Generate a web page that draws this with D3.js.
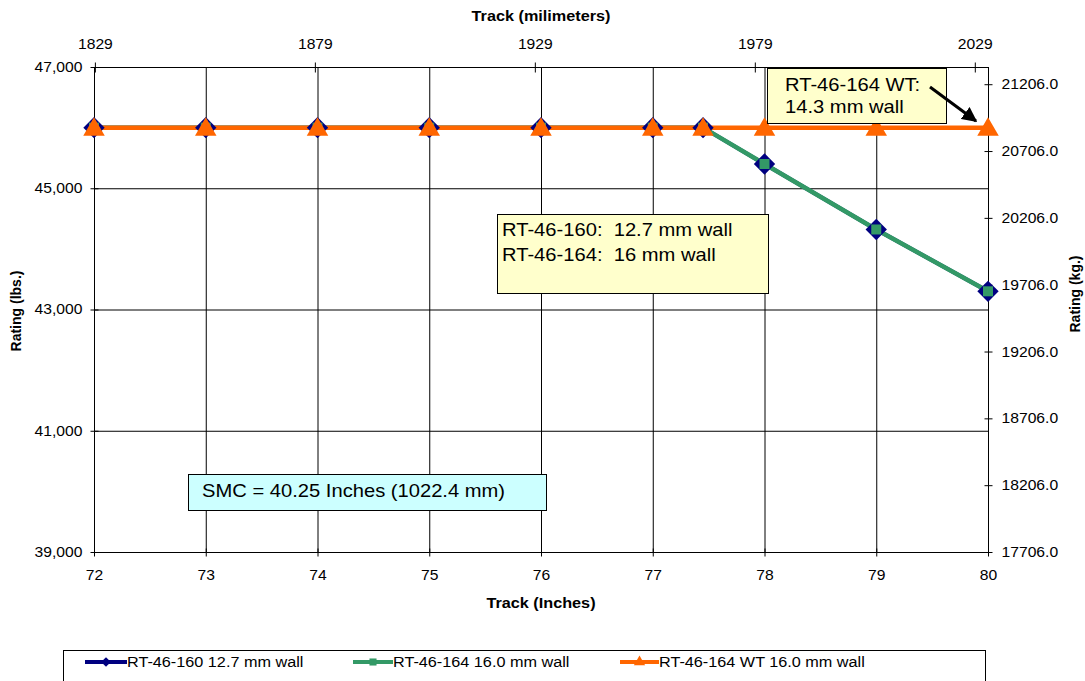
<!DOCTYPE html>
<html>
<head>
<meta charset="utf-8">
<script src="https://cdn.jsdelivr.net/npm/d3@7/dist/d3.min.js"></script>
<style>
  html, body { margin: 0; padding: 0; background: #fff; }
  svg { display: block; font-family: "Liberation Sans", Arial, sans-serif; }
  text { white-space: pre; }
</style>
</head>
<body>
<svg id="chart" width="1085" height="681"></svg>
<script>
// Track widths (inches) and ratings (lbs.)
const trackInches = [72, 73, 74, 75, 76, 77, 77.45, 78, 79, 80];
const rt46_160 = [46000, 46000, 46000, 46000, 46000, 46000, 46000, 45400, 44320, 43300];
const rt46_164 = [46000, 46000, 46000, 46000, 46000, 46000, 46000, 45400, 44320, 43300];
const rt46_164wt = [46000, 46000, 46000, 46000, 46000, 46000, 46000, 46000, 46000, 46000];

const seriesNames = ["RT-46-160 12.7 mm wall", "RT-46-164 16.0 mm wall", "RT-46-164 WT 16.0 mm wall"];
const xTicks = [72, 73, 74, 75, 76, 77, 78, 79, 80];
const yTicks = [39000, 41000, 43000, 45000, 47000];
const mmTicks = [1829, 1879, 1929, 1979, 2029];
const kgTicks = [17706, 18206, 18706, 19206, 19706, 20206, 20706, 21206];

const LB_TO_KG = 0.45359237;
const IN_TO_MM = 25.4;
const STRETCH = 1.12;   // slightly widened lettering

const svg = d3.select("#chart");
const pLeft = 94, pRight = 988, pTop = 67, pBottom = 552;

const x = d3.scaleLinear().domain([72, 80]).range([pLeft, pRight]);
const y = d3.scaleLinear().domain([39000, 47000]).range([pBottom, pTop]);
const xMm = d3.scaleLinear().domain([72 * IN_TO_MM, 80 * IN_TO_MM]).range([pLeft, pRight]);
const yKg = d3.scaleLinear().domain([17706, 17706 + 8000 * LB_TO_KG]).range([pBottom, pTop]);

// place a horizontally widened text at (tx, ty)
function wideText(parent, tx, ty, str, size, opts = {}) {
  const t = parent.append("text")
    .attr("transform", `translate(${tx},${ty}) scale(${STRETCH},1)`)
    .attr("font-size", size).attr("fill", "#000").text(str);
  if (opts.anchor) t.attr("text-anchor", opts.anchor);
  if (opts.bold) t.attr("font-weight", "bold");
  return t;
}

// Grid
const grid = svg.append("g");
grid.selectAll("line.v").data(xTicks).join("line")
  .attr("x1", d => x(d) + 0.5).attr("x2", d => x(d) + 0.5)
  .attr("y1", pTop).attr("y2", pBottom)
  .attr("stroke", "#000").attr("stroke-width", 1);
grid.selectAll("line.h").data(yTicks).join("line")
  .attr("x1", pLeft).attr("x2", pRight)
  .attr("y1", d => y(d) + 0.5).attr("y2", d => y(d) + 0.5)
  .attr("stroke", "#000").attr("stroke-width", 1);
svg.append("rect").attr("x", pLeft + 0.5).attr("y", pTop + 0.5)
  .attr("width", pRight - pLeft).attr("height", pBottom - pTop)
  .attr("fill", "none").attr("stroke", "#000");

// Axes
function styleAxis(g) {
  g.select(".domain").remove();
  g.selectAll("line").attr("stroke", "#000");
  g.selectAll("text").each(function () {
    const t = d3.select(this);
    const tx = +t.attr("x") || 0, ty = +t.attr("y") || 0;
    t.attr("x", null).attr("y", null)
      .attr("transform", `translate(${tx},${ty}) scale(${STRETCH},1)`)
      .attr("font-size", 14).attr("fill", "#000");
  });
}
svg.append("g").attr("transform", `translate(0,${pBottom + 0.5})`)
  .call(d3.axisBottom(x).tickValues(xTicks).tickSize(4).tickPadding(14).tickFormat(d3.format("d")))
  .call(styleAxis)
  .call(g => g.selectAll("line").attr("y1", -4));
svg.append("g").attr("transform", `translate(${pLeft + 0.5},0)`)
  .call(d3.axisLeft(y).tickValues(yTicks).tickSize(4).tickPadding(8).tickFormat(d3.format(",")))
  .call(styleAxis)
  .call(g => g.selectAll("line").attr("x1", 4));
svg.append("g").attr("transform", `translate(0,${pTop + 0.5})`)
  .call(d3.axisTop(xMm).tickValues(mmTicks).tickSize(5).tickPadding(14).tickFormat(d3.format("d")))
  .call(styleAxis)
  .call(g => g.selectAll("line").attr("y1", 5));
svg.append("g").attr("transform", `translate(${pRight + 0.5},0)`)
  .call(d3.axisRight(yKg).tickValues(kgTicks).tickSize(4).tickPadding(9).tickFormat(d3.format(".1f")))
  .call(styleAxis)
  .call(g => g.selectAll("line").attr("x1", -4));

// Axis titles
wideText(svg, 541, 21, "Track (milimeters)", 14.5, { anchor: "middle", bold: true });
wideText(svg, 541, 608, "Track (Inches)", 14.5, { anchor: "middle", bold: true });
svg.append("text").attr("transform", "translate(21,311) rotate(-90)").attr("text-anchor", "middle")
  .attr("font-size", 14).attr("font-weight", "bold").text("Rating (lbs.)");
svg.append("text").attr("transform", "translate(1080,294) rotate(-90)").attr("text-anchor", "middle")
  .attr("font-size", 14).attr("font-weight", "bold").text("Rating (kg.)");

// Series
const line = d3.line().x(d => x(d[0])).y(d => y(d[1]));
const pts = vals => trackInches.map((t, i) => [t, vals[i]]);
const diamond = d3.symbol().type(d3.symbolDiamond2).size(290);
const square = d3.symbol().type(d3.symbolSquare).size(100);
const triangle = d3.symbol().type(d3.symbolTriangle).size(200);

const plot = svg.append("g");
plot.append("path").attr("d", line(pts(rt46_160))).attr("fill", "none")
  .attr("stroke", "#000080").attr("stroke-width", 4);
plot.append("path").attr("d", line(pts(rt46_164))).attr("fill", "none")
  .attr("stroke", "#339966").attr("stroke-width", 4.5);
plot.append("path").attr("d", line(pts(rt46_164wt))).attr("fill", "none")
  .attr("stroke", "#ff6600").attr("stroke-width", 4.5);

plot.selectAll("path.d").data(pts(rt46_160)).join("path")
  .attr("transform", d => `translate(${x(d[0])},${y(d[1])})`)
  .attr("d", diamond).attr("fill", "#000080");
plot.selectAll("path.s").data(pts(rt46_164)).join("path")
  .attr("transform", d => `translate(${x(d[0])},${y(d[1])})`)
  .attr("d", square).attr("fill", "#339966");
plot.selectAll("path.t").data(pts(rt46_164wt)).join("path")
  .attr("transform", d => `translate(${x(d[0])},${y(d[1]) + 2})`)
  .attr("d", triangle).attr("fill", "#ff6600");

// Annotation boxes
function noteBox(x0, y0, w, h, fill, lines, fs, tx, centers) {
  const g = svg.append("g");
  g.append("rect").attr("x", x0 + 0.5).attr("y", y0 + 0.5).attr("width", w).attr("height", h)
    .attr("fill", fill).attr("stroke", "#000").attr("stroke-width", 1);
  lines.forEach((t, i) => wideText(g, tx, centers[i] + fs * 0.35, t, fs));
  return g;
}
noteBox(497, 214, 271, 79, "#ffffcc", ["RT-46-160:  12.7 mm wall", "RT-46-164:  16 mm wall"], 18, 502, [230, 255]);
noteBox(767, 68, 179, 55, "#ffffcc", ["RT-46-164 WT:", "14.3 mm wall"], 18, 785, [85, 107]);
noteBox(188, 474, 358, 36, "#ccffff", ["SMC = 40.25 Inches (1022.4 mm)"], 18, 202, [491]);

// Arrow pointing at the WT series
svg.append("defs").append("marker").attr("id", "arrowhead")
  .attr("viewBox", "0 0 10 10").attr("refX", 9).attr("refY", 5)
  .attr("markerWidth", 5).attr("markerHeight", 5).attr("orient", "auto")
  .append("path").attr("d", "M0,0 L10,5 L0,10 Z").attr("fill", "#000");
svg.append("line").attr("x1", 930).attr("y1", 87).attr("x2", 976).attr("y2", 121)
  .attr("stroke", "#000").attr("stroke-width", 3).attr("marker-end", "url(#arrowhead)");

// Legend
const legend = svg.append("g");
legend.append("rect").attr("x", 63.5).attr("y", 650.5).attr("width", 922).attr("height", 40)
  .attr("fill", "#fff").attr("stroke", "#000");
const legendItems = [
  { name: seriesNames[0], color: "#000080", sym: d3.symbol().type(d3.symbolDiamond2).size(60), x0: 85, x1: 127 },
  { name: seriesNames[1], color: "#339966", sym: d3.symbol().type(d3.symbolSquare).size(50), x0: 353, x1: 393 },
  { name: seriesNames[2], color: "#ff6600", sym: d3.symbol().type(d3.symbolTriangle).size(55), x0: 620, x1: 659 }
];
legendItems.forEach(it => {
  legend.append("line").attr("x1", it.x0).attr("x2", it.x1).attr("y1", 662).attr("y2", 662)
    .attr("stroke", it.color).attr("stroke-width", 4);
  legend.append("path").attr("transform", `translate(${(it.x0 + it.x1) / 2},662)`)
    .attr("d", it.sym).attr("fill", it.color);
  wideText(legend, it.x1, 667, it.name, 14.5);
});
</script>
</body>
</html>
